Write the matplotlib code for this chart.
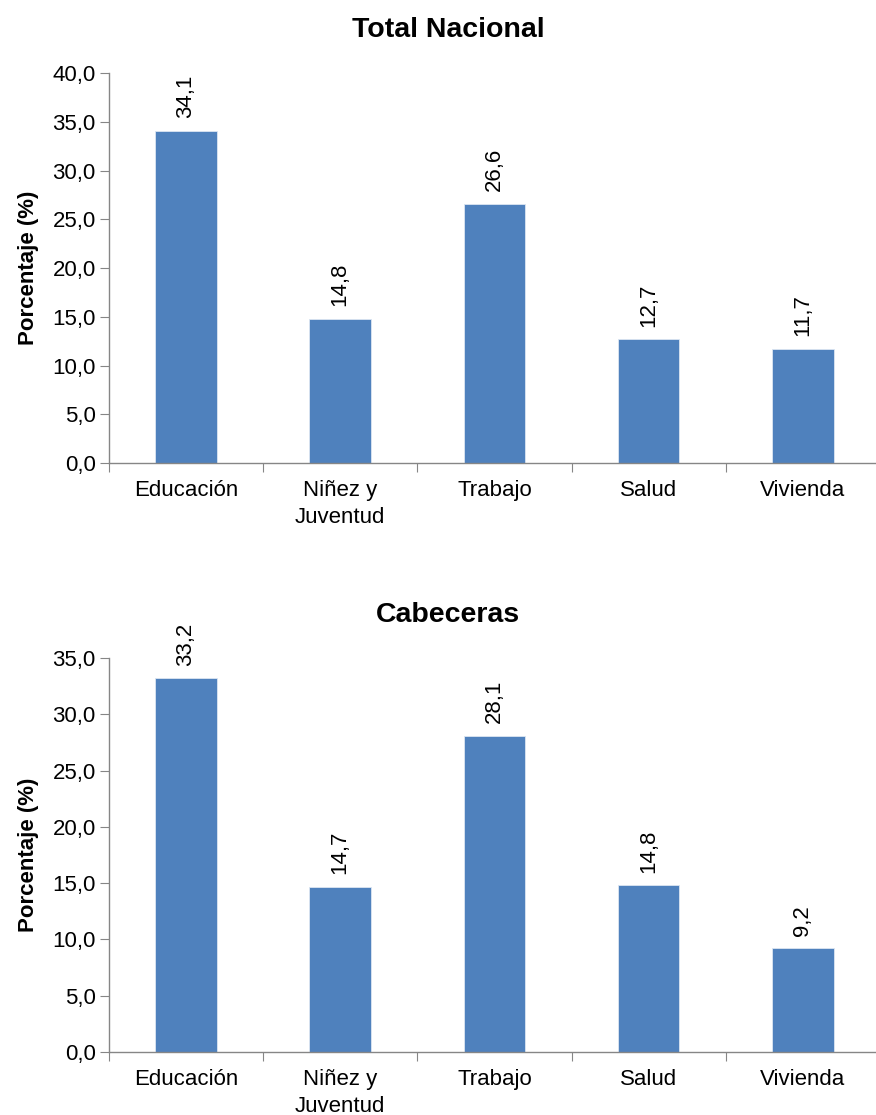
import matplotlib.pyplot as plt
from matplotlib.ticker import FuncFormatter

plt.rcParams['font.family'] = ['Liberation Sans', 'DejaVu Sans']

categories = ["Educación", "Niñez y\nJuventud", "Trabajo", "Salud", "Vivienda"]
total_nacional = [34.1, 14.8, 26.6, 12.7, 11.7]
cabeceras = [33.2, 14.7, 28.1, 14.8, 9.2]

# left, bottom, width, height (axes run slightly past the right edge, as in the original)
panels = [
    ("Total Nacional", total_nacional, 40, [0.1244, 0.5847, 0.880, 0.3498]),
    ("Cabeceras", cabeceras, 35, [0.1244, 0.0565, 0.880, 0.3534]),
]

bar_color = "#4F81BD"
axis_color = "#868686"
fs = 16

fig = plt.figure(figsize=(8.76, 11.15), dpi=100)

for title, values, ymax, rect in panels:
    ax = fig.add_axes(rect)
    x = range(len(categories))
    bars = ax.bar(x, values, width=0.40, color=bar_color, edgecolor="#dce6f2", linewidth=0.6, zorder=2)
    for b, v in zip(bars, values):
        ax.annotate(f"{v:.1f}".replace(".", ","), (b.get_x() + b.get_width() / 2, v),
                    xytext=(0, 9), textcoords="offset points", rotation=90,
                    ha="center", va="bottom", fontsize=fs)
    ax.set_xlim(-0.5, len(categories) - 0.5)
    ax.set_ylim(0, ymax)
    ax.set_yticks(range(0, ymax + 1, 5))
    ax.yaxis.set_major_formatter(FuncFormatter(lambda v, p: f"{v:.1f}".replace(".", ",")))
    ax.set_xticks([i - 0.5 for i in range(len(categories) + 1)])
    ax.set_xticklabels([])
    ax.set_xticks(list(x), minor=True)
    ax.set_xticklabels(categories, minor=True, fontsize=fs, linespacing=1.4)
    ax.tick_params(axis="x", which="minor", length=0, pad=12)
    ax.tick_params(axis="x", which="major", length=6.5, color=axis_color, direction="out")
    ax.tick_params(axis="y", length=6.5, color=axis_color, labelsize=fs, pad=3)
    for s in ["top", "right"]:
        ax.spines[s].set_visible(False)
    for s in ["left", "bottom"]:
        ax.spines[s].set_color(axis_color)
        ax.spines[s].set_linewidth(1.0)
    ax.set_ylabel("Porcentaje (%)", fontsize=fs, fontweight="bold", labelpad=10)
    ax.set_title(title, fontsize=20.5, fontweight="bold", pad=26, x=0.44)

fig.savefig("out.png", dpi=100)
